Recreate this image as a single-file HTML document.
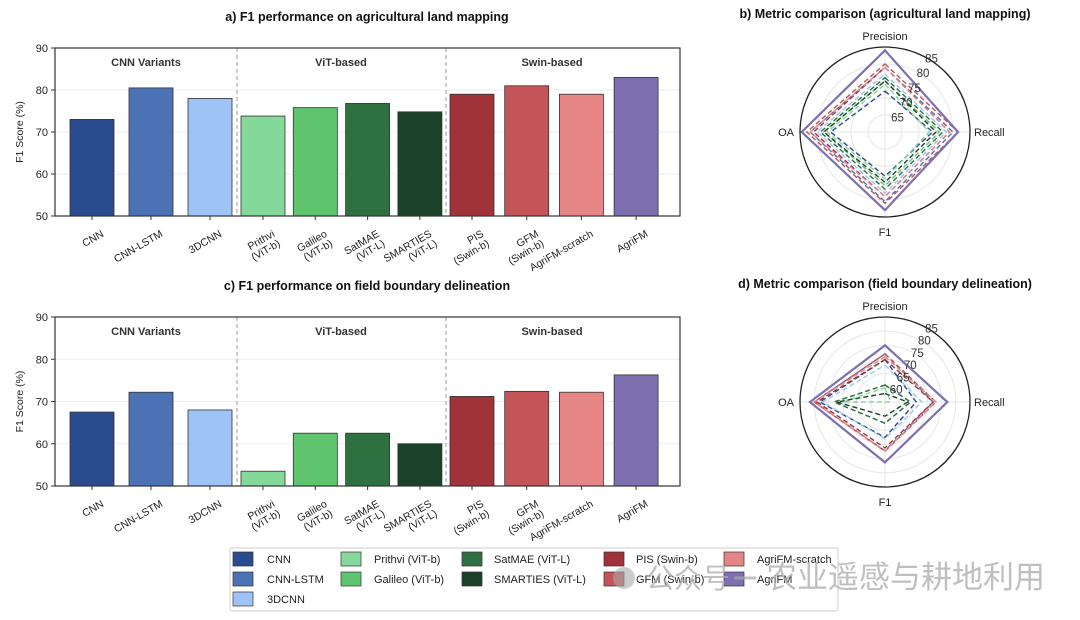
<!DOCTYPE html>
<html><head><meta charset="utf-8"><style>
body{margin:0;background:#fff;}
svg{display:block;font-family:"Liberation Sans","Noto Sans CJK SC",sans-serif;}
</style></head><body>
<svg id="s" width="1080" height="620" viewBox="0 0 1080 620"></svg>
<script>
const models=["CNN","CNN-LSTM","3DCNN","Prithvi (ViT-b)","Galileo (ViT-b)","SatMAE (ViT-L)","SMARTIES (ViT-L)","PIS (Swin-b)","GFM (Swin-b)","AgriFM-scratch","AgriFM"];
const tickLines=[["CNN"],["CNN-LSTM"],["3DCNN"],["Prithvi","(ViT-b)"],["Galileo","(ViT-b)"],["SatMAE","(ViT-L)"],["SMARTIES","(ViT-L)"],["PIS","(Swin-b)"],["GFM","(Swin-b)"],["AgriFM-scratch"],["AgriFM"]];
const colors=["#2a4b8d","#4a72b5","#9dc3f7","#84d89a","#5ec46e","#2e7040","#1b4228","#a0333a","#c45458","#e58585","#7e6fb0"];
const f1Agri=[73,80.5,78,73.8,75.8,76.8,74.8,79,81,79,83];
const f1Field=[67.5,72.2,68,53.5,62.5,62.5,60,71.2,72.4,72.2,76.3];
const yTicks=[50,60,70,80,90];
const radarAxes=["Precision","Recall","F1","OA"];
// radar values per model: Precision, Recall, F1, OA
const radarAgri=[[72,74,73,76],[79,80,80.5,82],[77,78,78,80],[74,73,73.8,77],[75,76,75.8,78],[76,77,76.8,79],[75,75,74.8,78],[79,79,79,81],[80,81.5,81,83],[79,79,79,82],[84,81.5,83,84.5]];
const radarField=[[70,66,67.5,78],[72,72,72.2,80],[68,68,68,77],[60,57,53.5,70],[61,64,62.5,73],[61,64,62.5,73],[58,63,60,72],[70,72,71.2,79],[72,73,72.4,80],[71,73,72.2,80],[75,77,76.3,81.5]];
const radarTicksA=[65,70,75,80,85];
const radarTicksD=[60,65,70,75,80,85];
const groups=["CNN Variants","ViT-based","Swin-based"];

const S=document.getElementById('s');const NS="http://www.w3.org/2000/svg";
function el(t,a,p){const e=document.createElementNS(NS,t);for(const k in a)e.setAttribute(k,a[k]);(p||S).appendChild(e);return e;}
function tx(x,y,s,a,p){const e=el('text',Object.assign({x:x,y:y,'font-size':11,fill:'#222'},a||{}),p);e.textContent=s;return e;}

const groupOf=[0,0,0,1,1,1,1,2,2,2,2];
const gStart=[92,263,472],gStep=[59,52.3,54.7];
function bandX(i){const g=groupOf[i];const k=i-groupOf.indexOf(g);return gStart[g]+k*gStep[g];}

function barPanel(vals,top,bottom,title,nm,ty){
  const g=el('g',{});
  const L=55,R=680;
  const y=v=>bottom-(v-50)/40*(bottom-top);
  const t=tx(367,ty,title,{'font-size':12.5,'font-weight':'bold','text-anchor':'middle',fill:'#111'},g);
  
  yTicks.forEach(v=>{el('line',{x1:L,x2:R,y1:y(v),y2:y(v),stroke:'#eee','stroke-width':1},g);
    el('line',{x1:L-4,x2:L,y1:y(v),y2:y(v),stroke:'#333'},g);
    const tt=tx(L-7,y(v)+4,String(v),{'text-anchor':'end','font-size':11},g);});
  const yl=tx(0,0,"F1 Score (%)",{'text-anchor':'middle','font-size':10.5,transform:`translate(23,${(top+bottom)/2}) rotate(-90)`},g);
  
  [237,446].forEach(sx=>el('line',{x1:sx,x2:sx,y1:top,y2:bottom,stroke:'#999','stroke-dasharray':'4,3'},g));
  [[146,groups[0]],[341,groups[1]],[552,groups[2]]].forEach(([gx,s])=>{const e=tx(gx,top+18,s,{'text-anchor':'middle','font-weight':'bold','font-size':11,fill:'#333'},g);});
  vals.forEach((v,i)=>{const x=bandX(i);const r=el('rect',{x:x-22,y:y(v),width:44,height:bottom-y(v),fill:colors[i],stroke:'#333','stroke-width':0.8},g);
    
    const lg=el('g',{transform:`translate(${x+8},${bottom+12}) rotate(-30)`},g);
    tickLines[i].forEach((ln,j)=>{const e=tx(0,9+j*11,ln,{'text-anchor':'end','font-size':10.5},lg);});
    el('line',{x1:x,x2:x,y1:bottom,y2:bottom+4,stroke:'#333'},g);});
  el('rect',{x:L,y:top,width:R-L,height:bottom-top,fill:'none',stroke:'#333','stroke-width':1.2},g);
}
barPanel(f1Agri,48,216,"a) F1 performance on agricultural land mapping","bar-chart-agri",21);
barPanel(f1Field,317,486,"c) F1 performance on field boundary delineation","bar-chart-field",290);

function radar(data,cx,cy,rmin,ticks,title,nm){
  const g=el('g',{});
  const R=85,rmax=85;const r=v=>Math.max(0,(v-rmin)/(rmax-rmin)*R);
  const t=tx(885,cy-114,title,{'font-size':12.5,'font-weight':'bold','text-anchor':'middle',fill:'#111'},g);
  
  ticks.forEach(v=>el('circle',{cx:cx,cy:cy,r:r(v),fill:'none',stroke:'#e6e6e6'},g));
  el('line',{x1:cx-R,x2:cx+R,y1:cy,y2:cy,stroke:'#e6e6e6'},g);el('line',{x1:cx,x2:cx,y1:cy-R,y2:cy+R,stroke:'#e6e6e6'},g);
  const ang=[-90,0,90,180];
  const pt=(v,k)=>[cx+r(v)*Math.cos(ang[k]*Math.PI/180),cy+r(v)*Math.sin(ang[k]*Math.PI/180)];
  data.forEach((d,i)=>{const p=d.map((v,k)=>pt(v,k).join(',')).join(' ');
    const pl=el('polygon',{points:p,fill:'none',stroke:colors[i],'stroke-width':i==10?2.2:1.4,'stroke-dasharray':i==10?'none':'5,3'},g);
    });
  el('circle',{cx:cx,cy:cy,r:R,fill:'none',stroke:'#222','stroke-width':1.3},g);
  ticks.forEach(v=>{const a=-60*Math.PI/180;const e=tx(cx+r(v)*Math.cos(a)+4,cy+r(v)*Math.sin(a)+4,String(v),{'font-size':11.5,'text-anchor':'middle',fill:'#333'},g);});
  [[cx,cy-R-7,'middle',0],[cx+R+4,cy+4,'start',1],[cx,cy+R+19,'middle',2],[cx-R-6,cy+4,'end',3]].forEach(([lx,ly,an,k])=>{const e=tx(lx,ly,radarAxes[k],{'text-anchor':an,'font-size':11},g);});
}
radar(radarAgri,885,132,60,radarTicksA,"b) Metric comparison (agricultural land mapping)","radar-agri");
radar(radarField,885,402,55,radarTicksD,"d) Metric comparison (field boundary delineation)","radar-field");

const lg=el('g',{});
el('rect',{x:230,y:548,width:608,height:63,fill:'#fff',stroke:'#ccc',rx:2},lg);
const pos=[[0,0],[0,1],[0,2],[1,0],[1,1],[2,0],[2,1],[3,0],[3,1],[4,0],[4,1]];
const colX=[233,341,462,604,724],txX=[267,374,494,636,757],rowY=[552,572,592];
models.forEach((m,i)=>{const [c,r]=pos[i];
  const sw=el('rect',{x:colX[c],y:rowY[r],width:20,height:14,fill:colors[i],stroke:'#333','stroke-width':0.7},lg);
  
  const e=tx(txX[c],rowY[r]+11,m,{'font-size':11},lg);});
const wm=el('g',{});
el('circle',{cx:624,cy:578,r:11,fill:'#aaa','fill-opacity':0.6},wm);
tx(646,588,"公众号",{'font-size':28,fill:'#aaa','fill-opacity':0.75},wm);
tx(766,588,"农业遥感与耕地利用",{'font-size':31,fill:'#aaa','fill-opacity':0.75},wm);
el('line',{x1:734,x2:756,y1:578,y2:578,stroke:'#aaa','stroke-width':3,'stroke-opacity':0.7},wm);
</script>
</body></html>
